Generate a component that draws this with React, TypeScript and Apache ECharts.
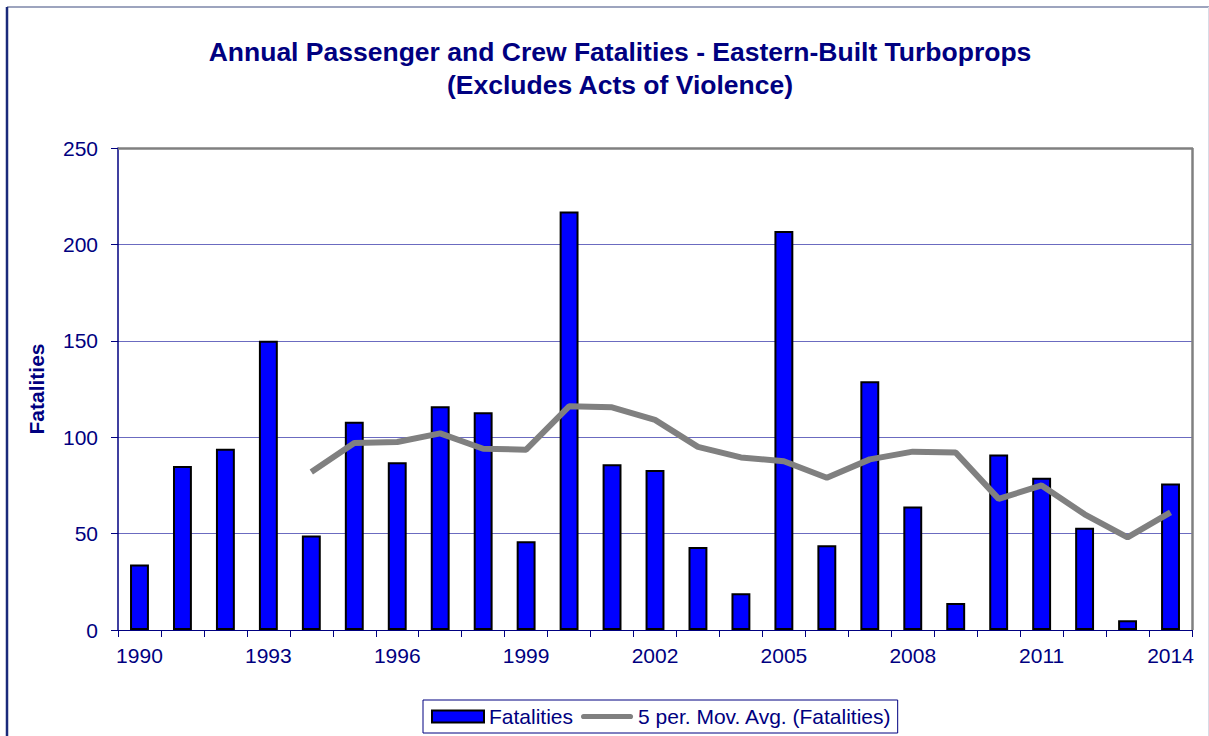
import React, { useEffect, useRef } from "react";
import * as echarts from "echarts";

const years = ["1990","1991","1992","1993","1994","1995","1996","1997","1998","1999","2000","2001","2002","2003","2004","2005","2006","2007","2008","2009","2010","2011","2012","2013","2014"];
const fatalities = [34, 85, 94, 150, 49, 108, 87, 116, 113, 46, 217, 86, 83, 43, 19, 207, 44, 129, 64, 14, 91, 79, 53, 5, 76];
const movingAvg = [null, null, null, null, 82, 97, 97.5, 102, 94, 93.5, 116, 115.5, 109, 95, 89.5, 87.5, 79, 88.5, 92.5, 92, 68, 75, 60, 48, 61];
const yTicks = { min: 0, max: 250, interval: 50 };

const NAVY = "#000080";
const FONT = "Liberation Sans, Arial, sans-serif";
const LINE_ICON = "path://M3,0 L57,0 A3,3 0 0 1 57,6 L3,6 A3,3 0 0 1 3,0 Z";

export default function App() {
  const ref = useRef<HTMLDivElement>(null);
  useEffect(() => {
    if (!ref.current) return;
    const chart = echarts.init(ref.current, null, { renderer: "svg" });
    chart.setOption({
      animation: false,
      backgroundColor: "#ffffff",
      title: {
        text: "Annual Passenger and Crew Fatalities - Eastern-Built Turboprops\n(Excludes Acts of Violence)",
        left: 620,
        top: 35,
        padding: 0,
        textAlign: "center",
        textStyle: { color: NAVY, fontSize: 26.5, fontWeight: "bold", fontFamily: FONT, lineHeight: 33 },
      },
      graphic: [
        { type: "line", shape: { x1: 7, y1: 7, x2: 1209, y2: 7 }, style: { stroke: "#7d86a8", lineWidth: 1.5 } },
        { type: "line", shape: { x1: 7, y1: 7, x2: 7, y2: 736 }, style: { stroke: "#1a2a7a", lineWidth: 2.5 } },
        { type: "line", shape: { x1: 1208.5, y1: 7, x2: 1208.5, y2: 736 }, style: { stroke: "#d8dbe6", lineWidth: 1 } },
        { type: "line", z: 1, shape: { x1: 118, y1: 148.5, x2: 1193, y2: 148.5 }, style: { stroke: "#808080", lineWidth: 2.5 } },
        { type: "line", z: 1, shape: { x1: 1192.5, y1: 148, x2: 1192.5, y2: 630 }, style: { stroke: "#808080", lineWidth: 2.5 } },
      ],
      grid: {
        left: 118, right: 17, top: 148, bottom: 106,
      },
      legend: {
        bottom: 3,
        left: 423,
        padding: [6, 6, 6, 8],
        borderColor: NAVY,
        borderWidth: 1,
        itemGap: 8,
        itemWidth: 52,
        itemHeight: 12,
        symbolKeepAspect: true,
        textStyle: { color: NAVY, fontSize: 21, fontFamily: FONT },
        data: [
          { name: "Fatalities", icon: "rect" },
          { name: "5 per. Mov. Avg. (Fatalities)", icon: LINE_ICON, itemStyle: { color: "#808080", borderWidth: 0 } },
        ],
      },
      xAxis: {
        type: "category",
        data: years,
        boundaryGap: true,
        axisLine: { lineStyle: { color: NAVY, width: 1 } },
        axisTick: { show: true, interval: 0, length: 7, lineStyle: { color: NAVY } },
        axisLabel: { interval: 2, color: NAVY, fontSize: 21, fontFamily: FONT, margin: 15 },
        splitLine: { show: false },
      },
      yAxis: {
        type: "value",
        min: yTicks.min,
        max: yTicks.max,
        interval: yTicks.interval,
        name: "Fatalities",
        nameLocation: "middle",
        nameGap: 71,
        nameTextStyle: { color: NAVY, fontSize: 21, fontWeight: "bold", fontFamily: FONT },
        axisLine: { show: true, lineStyle: { color: NAVY, width: 1.5 } },
        axisTick: { show: true, length: 7, lineStyle: { color: NAVY } },
        axisLabel: { color: NAVY, fontSize: 21, fontFamily: FONT, margin: 20 },
        splitLine: { show: true, lineStyle: { color: "#6b6bc0", width: 1 } },
      },
      series: [
        {
          name: "Fatalities",
          type: "bar",
          data: fatalities,
          barWidth: "44%",
          itemStyle: { color: "#0000ff", borderColor: "#000000", borderWidth: 2 },
        },
        {
          name: "5 per. Mov. Avg. (Fatalities)",
          type: "line",
          data: movingAvg,
          showSymbol: false,
          symbol: "none",
          connectNulls: false,
          lineStyle: { color: "#808080", width: 6 },
          itemStyle: { color: "#808080" },
        },
      ],
    });
    return () => chart.dispose();
  }, []);
  return <div ref={ref} style={{ position: "fixed", left: 0, top: 0, width: 1209, height: 736 }} />;
}
